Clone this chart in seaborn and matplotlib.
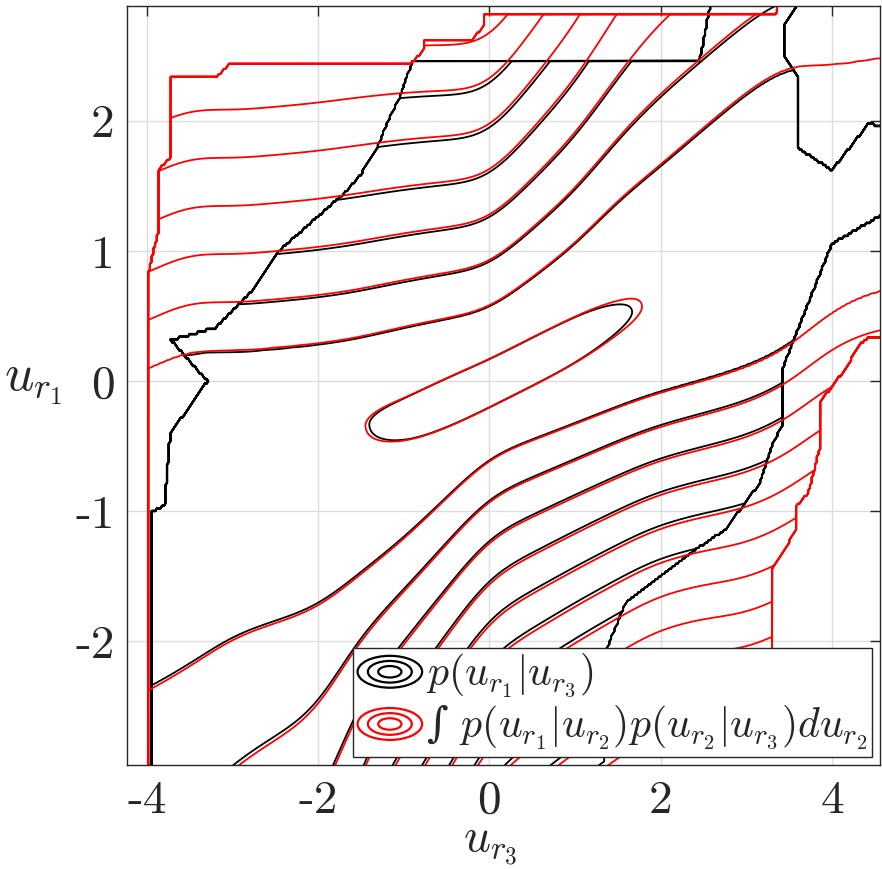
import numpy as np
import matplotlib
matplotlib.use("Agg")
import matplotlib.pyplot as plt
import seaborn as sns
from matplotlib.path import Path
from matplotlib.patches import Ellipse
from matplotlib.lines import Line2D
from matplotlib.legend_handler import HandlerBase

u3_knots = [-4.3, -3.5, -3.0, -2.0, -1.57, -1.0, 0.0, 1.0, 1.5, 1.92, 2.5, 3.0, 3.5, 4.0, 4.6]
# most probable u_r1 in each column
mode_u1 = [-0.7, -0.7, -0.65, -0.5, -0.34, -0.28, -0.02, 0.3, 0.47, 0.62, 0.85, 1.0, 1.2, 1.4, 1.6]
# where the 2nd contour level sits above / below the ridge
lvl2_top = [0.0, 0.25, 0.23, 0.29, 0.33, 0.42, 0.55, 1.05, 1.4, 1.62, 1.95, 2.23, 2.45, 2.42, 2.5]
lvl2_bottom = [-2.5, -2.2, -1.97, -1.75, -1.52, -1.22, -0.58, -0.33, -0.2, -0.1, 0.0, 0.1, 0.25, 0.55, 0.72]
# peak height (in contour-level units)
peak_red = [-1.6, -1.5, -1.4, -1.12, -1.0, -0.958, -0.88, -0.925, -0.977, -1.0, -1.15, -1.3, -1.45, -1.55, -1.6]
peak_black = [-1.6, -1.5, -1.4, -1.12, -1.01, -0.958, -0.88, -0.925, -0.985, -1.02, -1.15, -1.3, -1.45, -1.55, -1.6]
# distance between successive levels above / below the ridge
step_top = [0.37, 0.37, 0.37, 0.37, 0.37, 0.36, 0.34, 0.42, 0.48, 0.55, 0.55, 0.55, 0.55, 0.55, 0.55]
step_bottom = [1.2, 1.1, 1.0, 0.8, 0.5, 0.4, 0.31, 0.28, 0.27, 0.26, 0.26, 0.27, 0.27, 0.28, 0.3]
# black (direct) pdf is a touch narrower than the red (chained) one
black_spread = 0.985

levels = [-12, -11, -10, -9, -8, -7, -6, -5, -4, -3, -2, -1]

# where there was data (outside the pdf is empty)
red_edge_u3 = [-4.0, 3.31, 3.31, 3.43, 3.58, 3.58, 3.73, 3.87, 3.87, 4.0, 4.18, 4.3, 4.43, 4.65,
               4.65, 3.35, 3.35, -0.08, -0.08, -0.2, -0.77, -0.77, -0.92, -3.03, -3.17, -3.73,
               -3.73, -3.87, -3.87, -4.0]
red_edge_u1 = [-3.1, -3.1, -1.43, -1.32, -1.15, -0.97, -0.86, -0.5, -0.15, -0.05, 0.11, 0.26, 0.33, 0.33,
               3.0, 3.0, 2.84, 2.84, 2.73, 2.64, 2.64, 2.55, 2.45, 2.45, 2.36, 2.36,
               1.72, 1.63, 1.16, 0.8]
black_edge_u3 = [-3.95, 1.35, 1.35, 1.6, 2.3, 2.75, 3.17, 3.3, 3.43, 3.43, 4.0, 4.65, 4.65, 4.43, 4.0,
                 3.6, 3.6, 3.45, 3.45, 3.72, 2.6, 2.45, -0.9, -1.06, -1.19, -1.33, -1.5, -1.7, -2.2,
                 -2.47, -2.75, -3.2, -3.73, -3.3, -3.73, -3.8, -3.95]
black_edge_u1 = [-3.1, -3.1, -2.1, -1.7, -1.35, -1.15, -0.78, -0.5, -0.33, 0.1, 1.05, 1.3, 1.95, 1.99, 1.63,
                 1.8, 2.34, 2.5, 2.75, 3.0, 3.0, 2.47, 2.47, 2.18, 2.0, 1.78, 1.6, 1.45, 1.16,
                 1.0, 0.72, 0.42, 0.32, 0.0, -0.4, -0.95, -1.0]

u3_grid = np.arange(-4.3, 4.62, 0.02)
u1_grid = np.arange(-3.1, 3.0, 0.02)
U3, U1 = np.meshgrid(u3_grid, u1_grid)

# gaussian kernel to round off the corners between read-off columns
kx = np.arange(-30, 31)
kern = np.exp(-0.5 * (kx / 12.0) ** 2)
kern = kern / kern.sum()


def column_profile(vals):
    v = np.interp(u3_grid, u3_knots, vals)
    v = np.convolve(np.pad(v, 30, mode='edge'), kern, mode='valid')
    return v[None, :]


def log_pdf(peak, edge_u3, edge_u1, spread=1.0):
    m = column_profile(mode_u1)
    hi = m + spread * (column_profile(lvl2_top) - m)
    lo = m - spread * (m - column_profile(lvl2_bottom))
    P = column_profile(peak)
    su = spread * column_profile(step_top)
    sd = spread * column_profile(step_bottom)
    up = np.clip((U1 - m) / (hi - m), 0, 1)
    dn = np.clip((m - U1) / (m - lo), 0, 1)
    f = np.where(U1 >= m, P + (-2 - P) * up ** 2, P + (-2 - P) * dn ** 2)
    f = np.where(U1 > hi, -2 - (U1 - hi) / su, f)
    f = np.where(U1 < lo, -2 - (lo - U1) / sd, f)
    inside = Path(np.column_stack([edge_u3, edge_u1])).contains_points(
        np.column_stack([U3.ravel(), U1.ravel()])).reshape(U3.shape)
    f[~inside] = -40
    return f


field_black = log_pdf(peak_black, black_edge_u3, black_edge_u1, black_spread)
field_red = log_pdf(peak_red, red_edge_u3, red_edge_u1)

sns.set_theme(style="whitegrid")
plt.rcParams['mathtext.fontset'] = 'cm'
plt.rcParams['font.family'] = ['DejaVu Sans']
plt.rcParams['contour.negative_linestyle'] = 'solid'

fig = plt.figure(figsize=(8.82, 8.69), dpi=100)
ax = fig.add_axes([127 / 882, (869 - 765) / 869, 753 / 882, 759 / 869])
ax.set_facecolor('white')

ax.contour(u3_grid, u1_grid, field_black, levels=levels, colors='black', linewidths=1.3, linestyles='solid')
ax.contour(u3_grid, u1_grid, field_red, levels=levels, colors='red', linewidths=1.3, linestyles='solid')

ax.set_xlim(-4.23, 4.56)
ax.set_ylim(-2.95, 2.885)
ax.set_xticks([-4, -2, 0, 2, 4])
ax.set_xticklabels(['-4', '-2', '0', '2', '4'], fontfamily='cmr10', fontsize=34, color='#262626')
ax.set_yticks([-2, -1, 0, 1, 2])
ax.set_yticklabels(['-2', '-1', '0', '1', '2'], fontfamily='cmr10', fontsize=34, color='#262626')
ax.tick_params(direction='in', length=7, width=1, top=True, right=True, colors='#262626')
ax.tick_params(axis='x', pad=11)
ax.tick_params(axis='y', pad=9)
ax.grid(True, color='#dcdcdc', lw=1.0)
ax.set_axisbelow(True)
for s in ax.spines.values():
    s.set_color('#262626')
    s.set_linewidth(1.0)
    s.set_visible(True)

ax.set_xlabel(r'$u_{r_3}$', fontsize=34, color='#262626')
ax.xaxis.set_label_coords(0.482, -0.075)
ax.set_ylabel(r'$u_{r_1}$', fontsize=37, rotation=0, color='#262626', va='center')
ax.yaxis.set_label_coords(-0.125, 0.505)


class RingHandler(HandlerBase):
    def create_artists(self, legend, orig_handle, xdescent, ydescent, width, height, fontsize, trans):
        cx = width / 2 - xdescent
        cy = height / 2 - ydescent
        out = []
        for k in (1.0, 0.68, 0.36):
            out.append(Ellipse((cx, cy), width * k, height * k, fill=False,
                               edgecolor=orig_handle.get_color(), lw=1.6, transform=trans))
        return out


handles = [Line2D([], [], color='black'), Line2D([], [], color='red')]
labels = [r'$p(u_{r_1}|u_{r_3})$', u'\u222b $p(u_{r_1}|u_{r_2})p(u_{r_2}|u_{r_3})du_{r_2}$']
leg = ax.legend(handles, labels, handler_map={Line2D: RingHandler()}, loc='lower right',
                bbox_to_anchor=(1.0, 0.0), borderaxespad=0.2, handlelength=1.55,
                prop={'family': 'DejaVu Serif', 'size': 30},
                handleheight=0.8, handletextpad=0.1, borderpad=0.1, labelspacing=0.1,
                fancybox=False, framealpha=1, edgecolor='#262626')
leg.get_frame().set_linewidth(1.0)

fig.savefig('out.png', dpi=100)
